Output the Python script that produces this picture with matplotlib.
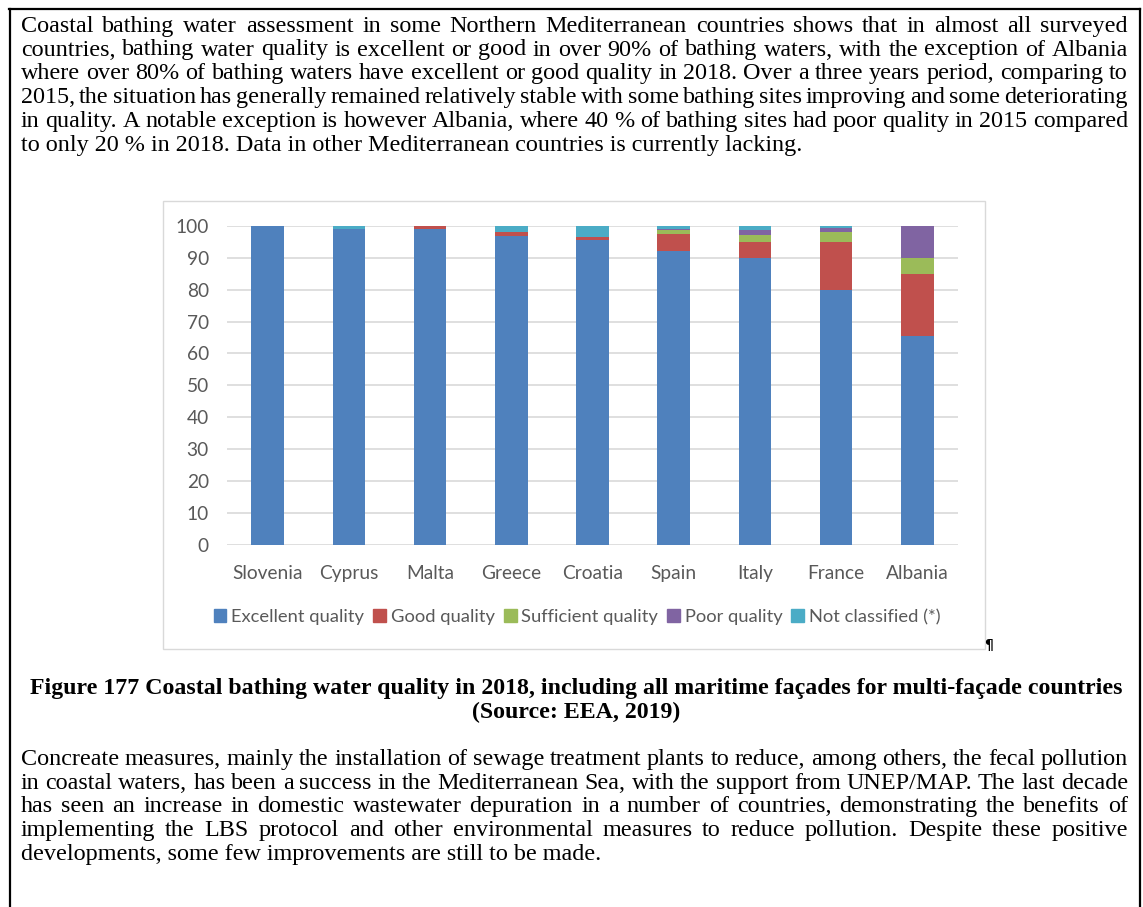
import matplotlib; matplotlib.use("Agg")
import matplotlib.pyplot as plt
from matplotlib.patches import Patch, Rectangle
from matplotlib.lines import Line2D
import numpy as np

countries = ["Slovenia", "Cyprus", "Malta", "Greece", "Croatia", "Spain", "Italy", "France", "Albania"]
excellent = [100, 99, 99, 97, 95.5, 92, 90, 80, 65.5]
good = [0, 0, 1, 1.2, 1.1, 5.4, 5, 15, 19.5]
sufficient = [0, 0, 0, 0, 0, 1.3, 2.3, 3, 5]
poor = [0, 0, 0, 0, 0, 0.5, 1.4, 1.5, 10]
not_classified = [0, 1, 0, 1.8, 3.4, 0.8, 1.3, 0.5, 0]
series_names = ["Excellent quality", "Good quality", "Sufficient quality", "Poor quality", "Not classified (*)"]
colors = ["#4F81BD", "#C0504D", "#9BBB59", "#8064A2", "#4BACC6"]

para1 = ["Coastal bathing water assessment in some Northern Mediterranean countries shows that in almost all surveyed",
         "countries, bathing water quality is excellent or good in over 90% of bathing waters, with the exception of Albania",
         "where over 80% of bathing waters have excellent or good quality in 2018. Over a three years period, comparing to",
         "2015, the situation has generally remained relatively stable with some bathing sites improving and some deteriorating",
         "in quality. A notable exception is however Albania, where 40 % of bathing sites had poor quality in 2015 compared",
         "to only 20 % in 2018. Data in other Mediterranean countries is currently lacking."]
caption = ["Figure 177 Coastal bathing water quality in 2018, including all maritime fa\u00e7ades for multi-fa\u00e7ade countries",
           "(Source: EEA, 2019)"]
para2 = ["Concreate measures, mainly the installation of sewage treatment plants to reduce, among others, the fecal pollution",
         "in coastal waters, has been a success in the Mediterranean Sea, with the support from UNEP/MAP. The last decade",
         "has seen an increase in domestic wastewater depuration in a number of countries, demonstrating the benefits of",
         "implementing the LBS protocol and other environmental measures to reduce pollution. Despite these positive",
         "developments, some few improvements are still to be made."]

W, H = 1143, 907
fig = plt.figure(figsize=(W / 100, H / 100), dpi=100)
renderer = fig.canvas.get_renderer()
SERIF = "Liberation Serif"; SANS = "Lato"; GREY = "#595959"

def fx(px): return px / W
def fy(py): return 1 - py / H

# page box (open at bottom)
for xs, ys in [((9, 1140), (9, 9)), ((10, 10), (9, 907)), ((1140, 1140), (9, 907))]:
    fig.add_artist(Line2D([fx(x) for x in xs], [fy(y) for y in ys], color="black", lw=1.6))

def justified(lines, y0, dy, left=21, right=1128, size=17.4):
    for k, line in enumerate(lines):
        y = fy(y0 + k * dy)
        if k == len(lines) - 1:
            fig.text(fx(left), y, line, family=SERIF, fontsize=size, va="baseline")
            continue
        words = line.split()
        ts = [fig.text(0, y, w, family=SERIF, fontsize=size, va="baseline") for w in words]
        ws = [t.get_window_extent(renderer).width for t in ts]
        gap = (right - left - sum(ws)) / (len(words) - 1)
        x = left
        for t, w in zip(ts, ws):
            t.set_x(fx(x)); x += w + gap

justified(para1, 31.7, 23.8)
justified(para2, 765, 23.7)
fig.text(fx(576), fy(694), caption[0], family=SERIF, fontsize=17.2, weight="bold", ha="center", va="baseline")
fig.text(fx(576), fy(718), caption[1], family=SERIF, fontsize=17.2, weight="bold", ha="center", va="baseline")

# chart frame
fig.add_artist(Rectangle((fx(163), fy(649)), fx(985 - 163), (649 - 201) / H,
                         transform=fig.transFigure, fill=False, edgecolor="#D9D9D9", lw=1))
fig.text(fx(989), fy(645), "\u00b6", fontsize=10, weight="bold", ha="center", va="center")

ax = fig.add_axes([fx(227), fy(544.5), fx(958 - 227), (544.5 - 226) / H])
x = np.arange(len(countries))
bottom = np.zeros(len(countries))
for vals, name, c in zip([excellent, good, sufficient, poor, not_classified], series_names, colors):
    ax.bar(x, vals, 0.4, bottom=bottom, color=c, label=name, zorder=3)
    bottom += np.array(vals)
ax.set_xlim(-0.5, len(countries) - 0.5); ax.set_ylim(0, 100)
ax.set_yticks(range(0, 101, 10))
ax.set_xticks(x); ax.set_xticklabels(countries)
ax.grid(axis="y", color="#D9D9D9", lw=1.2, zorder=0)
for s in ax.spines.values(): s.set_visible(False)
ax.tick_params(length=0, colors=GREY, labelsize=13.8)
ax.tick_params(axis="y", pad=13); ax.tick_params(axis="x", pad=15)
for lab in ax.get_xticklabels() + ax.get_yticklabels(): lab.set_family(SANS)

handles = [Patch(color=c, label=n) for c, n in zip(colors, series_names)]
fig.legend(handles=handles, loc="center", bbox_to_anchor=(fx(577), fy(617)), ncol=5, frameon=False,
           prop={"family": SANS, "size": 13.2}, labelcolor=GREY, handlelength=0.7, handleheight=0.7,
           handletextpad=0.25, columnspacing=0.5, borderaxespad=0)

fig.savefig("out.png", dpi=100)
